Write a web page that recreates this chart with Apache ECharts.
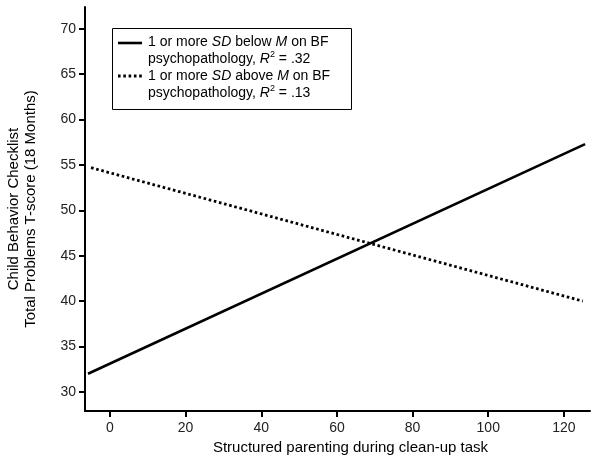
<!DOCTYPE html>
<html>
<head>
<meta charset="utf-8">
<script src="https://cdn.jsdelivr.net/npm/echarts@6/dist/echarts.min.js"></script>
<style>html,body{margin:0;padding:0;background:#fff;}#c{width:600px;height:462px;}</style>
</head>
<body>
<div id="c"></div>
<script>
// Data
var xTicks = [0, 20, 40, 60, 80, 100, 120];
var yTicks = [30, 35, 40, 45, 50, 55, 60, 65, 70];
var belowX = [-5.8, 125.6];
var belowM = [32.0, 57.3];   // 1 or more SD below M
var aboveX = [-5.0, 125.0];
var aboveM = [54.7, 40.0];   // 1 or more SD above M
var seriesNames = ['1 or more SD below M on BF psychopathology', '1 or more SD above M on BF psychopathology'];

function pairs(xs, ys) { return xs.map(function (x, i) { return [x, ys[i]]; }); }

var font = 'Liberation Sans, Arial, sans-serif';
var chart = echarts.init(document.getElementById('c'), null, {renderer: 'canvas'});
chart.setOption({
  animation: false,
  backgroundColor: '#fff',
  grid: {left: 85, right: 10, top: 7, bottom: 51, containLabel: false, outerBoundsMode: 'none'},
  xAxis: {
    type: 'value', min: -6.6, max: 126.9,
    name: 'Structured parenting during clean-up task',
    nameLocation: 'middle', nameGap: 29,
    nameTextStyle: {fontFamily: font, fontSize: 15, color: '#000', padding: [0, 0, 0, 26]},
    axisLine: {show: true, onZero: false, lineStyle: {color: '#000', width: 2}},
    axisTick: {show: true, customValues: xTicks, length: 6, lineStyle: {color: '#000', width: 2}},
    axisLabel: {customValues: xTicks, fontFamily: font, fontSize: 14, color: '#222', margin: 10},
    splitLine: {show: false}
  },
  yAxis: {
    type: 'value', min: 27.9, max: 72.4,
    name: 'Child Behavior Checklist\nTotal Problems T-score (18 Months)',
    nameLocation: 'middle', nameGap: 46, nameRotate: 90,
    nameTextStyle: {fontFamily: font, fontSize: 15, color: '#000', lineHeight: 17},
    axisLine: {show: true, onZero: false, lineStyle: {color: '#000', width: 2}},
    axisTick: {show: true, customValues: yTicks, length: 6, lineStyle: {color: '#000', width: 2}},
    axisLabel: {customValues: yTicks, fontFamily: font, fontSize: 14, color: '#222', margin: 9},
    splitLine: {show: false}
  },
  series: [
    {name: seriesNames[0], type: 'line', data: pairs(belowX, belowM), symbol: 'none',
     lineStyle: {color: '#000', width: 2.6, type: 'solid'}},
    {name: seriesNames[1], type: 'line', data: pairs(aboveX, aboveM), symbol: 'none',
     lineStyle: {color: '#000', width: 2.8, type: [2.6, 2.7], cap: 'butt'}}
  ],
  graphic: [
    {type: 'rect', shape: {x: 112.5, y: 28.5, width: 239, height: 81},
     style: {fill: '#fff', stroke: '#000', lineWidth: 1}},
    {type: 'line', shape: {x1: 118, y1: 43, x2: 142, y2: 43}, style: {stroke: '#000', lineWidth: 2.6}},
    {type: 'line', shape: {x1: 118, y1: 76, x2: 142, y2: 76}, style: {stroke: '#000', lineWidth: 2.8, lineDash: [2.6, 2.7]}},
    {type: 'text', x: 148, y: 33.5, style: {
      text: '1 or more {i|SD} below {i|M} on BF\npsychopathology, {i|R}{s|2} = .32',
      fontFamily: font, fontSize: 14, fill: '#000', lineHeight: 17,
      rich: {i: {fontStyle: 'italic', fontFamily: font, fontSize: 14, lineHeight: 17},
             s: {fontFamily: font, fontSize: 9, verticalAlign: 'top', lineHeight: 17, padding: [0, 0, 6, 0]}}}},
    {type: 'text', x: 148, y: 67.5, style: {
      text: '1 or more {i|SD} above {i|M} on BF\npsychopathology, {i|R}{s|2} = .13',
      fontFamily: font, fontSize: 14, fill: '#000', lineHeight: 17,
      rich: {i: {fontStyle: 'italic', fontFamily: font, fontSize: 14, lineHeight: 17},
             s: {fontFamily: font, fontSize: 9, verticalAlign: 'top', lineHeight: 17, padding: [0, 0, 6, 0]}}}}
  ]
});
</script>
</body>
</html>
